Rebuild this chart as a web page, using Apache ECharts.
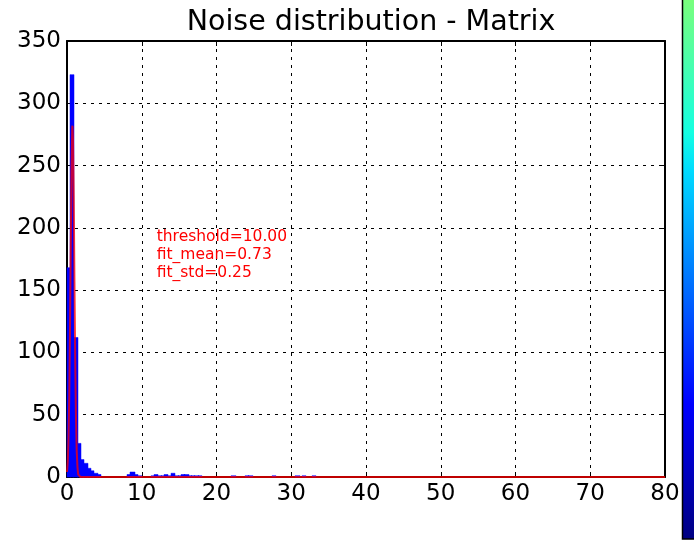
<!DOCTYPE html>
<html>
<head>
<meta charset="utf-8">
<script src="https://cdn.jsdelivr.net/npm/echarts@6/dist/echarts.min.js"></script>
<style>
  html, body { margin: 0; padding: 0; background: #fff; }
  #main { width: 694px; height: 547px; }
</style>
</head>
<body>
<div id="main"></div>
<script>
// histogram bins (left edge) and counts
var binW = 0.45;
var binLeft = [0, 0.45, 0.9, 1.35, 1.8, 2.25, 2.7, 3.15, 3.6, 4.05,
               8.1, 8.55, 9.0, 9.45,
               11.25, 11.7, 12.15, 12.6, 13.05, 13.5, 13.95, 14.4, 14.85, 15.3, 15.75, 16.2, 16.65, 17.1, 17.55,
               22.05, 23.85, 24.3, 27.45, 30.6, 31.5, 32.85];
var counts  = [168, 323, 112, 27, 14, 11, 7, 5, 3, 2,
               2, 4, 2, 1,
               1, 2, 1, 1, 2, 1, 3, 1, 1, 2, 2, 1, 1, 1, 1,
               1, 1, 1, 1, 1, 1, 1];

// gaussian fit curve as drawn
var fitX = [0, 0.1, 0.2, 0.3, 0.4, 0.5, 0.6, 0.7, 0.73, 0.8, 0.9, 1.0, 1.1, 1.2, 1.3, 1.4, 1.5, 1.6, 1.8, 80];
var fitY = [4, 12, 30, 64, 118, 185, 246, 280, 282, 271, 224, 157, 94, 48, 21, 8, 2, 1, 0, 0];

var xTicks = [0, 10, 20, 30, 40, 50, 60, 70, 80];
var yTicks = [0, 50, 100, 150, 200, 250, 300, 350];

var notes = ['threshold=10.00', 'fit_mean=0.73', 'fit_std=0.25'];
var notePos = [12, 200];

var FONT = 'DejaVu Sans';

var chart = echarts.init(document.getElementById('main'));

var histData = [];
for (var i = 0; i < binLeft.length; i++) {
    histData.push([binLeft[i], binLeft[i] + binW, counts[i]]);
}
var fitData = [];
for (var j = 0; j < fitX.length; j++) {
    fitData.push([fitX[j], fitY[j]]);
}

function xAx(pos, labels) {
    return {
        type: 'value',
        position: pos,
        min: xTicks[0],
        max: xTicks[xTicks.length - 1],
        interval: xTicks[1] - xTicks[0],
        axisLine: { show: true, onZero: false, lineStyle: { color: '#000', width: 2 } },
        axisTick: { show: true, inside: true, length: 5, lineStyle: { color: '#000', width: 1 } },
        axisLabel: { show: labels, color: '#000', fontFamily: FONT, fontSize: 23, margin: 6 },
        splitLine: { show: labels, lineStyle: { color: '#000', type: [3, 5], width: 1 } }
    };
}
function yAx(pos, labels) {
    return {
        type: 'value',
        position: pos,
        min: yTicks[0],
        max: yTicks[yTicks.length - 1],
        interval: yTicks[1] - yTicks[0],
        axisLine: { show: true, onZero: false, lineStyle: { color: '#000', width: 2 } },
        axisTick: { show: true, inside: true, length: 5, lineStyle: { color: '#000', width: 1 } },
        axisLabel: { show: labels, color: '#000', fontFamily: FONT, fontSize: 23, margin: 6 },
        splitLine: { show: labels, lineStyle: { color: '#000', type: [3, 5], width: 1 } }
    };
}

var option = {
    animation: false,
    backgroundColor: '#fff',
    title: {
        text: 'Noise distribution - Matrix',
        left: 366,
        textAlign: 'center',
        top: 3,
        textStyle: { fontFamily: FONT, fontSize: 28.5, fontWeight: 'normal', color: '#000' }
    },
    grid: { left: 67, right: 29, top: 41, bottom: 70, containLabel: false },
    xAxis: [xAx('bottom', true), xAx('top', false)],
    yAxis: [yAx('left', true), yAx('right', false)],
    series: [
        {
            type: 'custom',
            name: 'hist',
            data: histData,
            encode: { x: [0, 1], y: 2 },
            renderItem: function (params, api) {
                var p0 = api.coord([api.value(0), api.value(2)]);
                var p1 = api.coord([api.value(1), 0]);
                var x0 = Math.floor(p0[0]), x1 = Math.ceil(p1[0]);
                return {
                    type: 'rect',
                    shape: { x: x0, y: p0[1], width: Math.max(1, x1 - x0), height: p1[1] - p0[1] },
                    style: { fill: '#0000ff', stroke: '#0000ff', lineWidth: 0.5 }
                };
            },
            z: 2
        },
        {
            type: 'line',
            name: 'fit',
            data: fitData,
            showSymbol: false,
            symbol: 'none',
            lineStyle: { color: 'rgba(255,0,0,0.75)', width: 2 },
            z: 3
        }
    ]
};

chart.setOption(option);

var p = chart.convertToPixel({ gridIndex: 0 }, notePos);
chart.setOption({
    graphic: [
        {
            type: 'text',
            x: p[0],
            y: p[1],
            z: 10,
            style: {
                text: notes.join('\n'),
                fill: '#ff0000',
                font: '15.5px "' + FONT + '"',
                lineHeight: 18
            }
        },
        {
            type: 'rect',
            z: 10,
            shape: { x: 682.5, y: -2, width: 14, height: 541 },
            style: {
                fill: new echarts.graphic.LinearGradient(0, 0, 0, 1, [
                    { offset: 0, color: 'rgb(123,255,123)' },
                    { offset: 0.25, color: 'rgb(20,255,226)' },
                    { offset: 0.32, color: 'rgb(0,219,255)' },
                    { offset: 0.75, color: 'rgb(0,0,255)' },
                    { offset: 1, color: 'rgb(0,0,128)' }
                ]),
                stroke: '#000',
                lineWidth: 1.5
            }
        }
    ]
});
</script>
</body>
</html>
